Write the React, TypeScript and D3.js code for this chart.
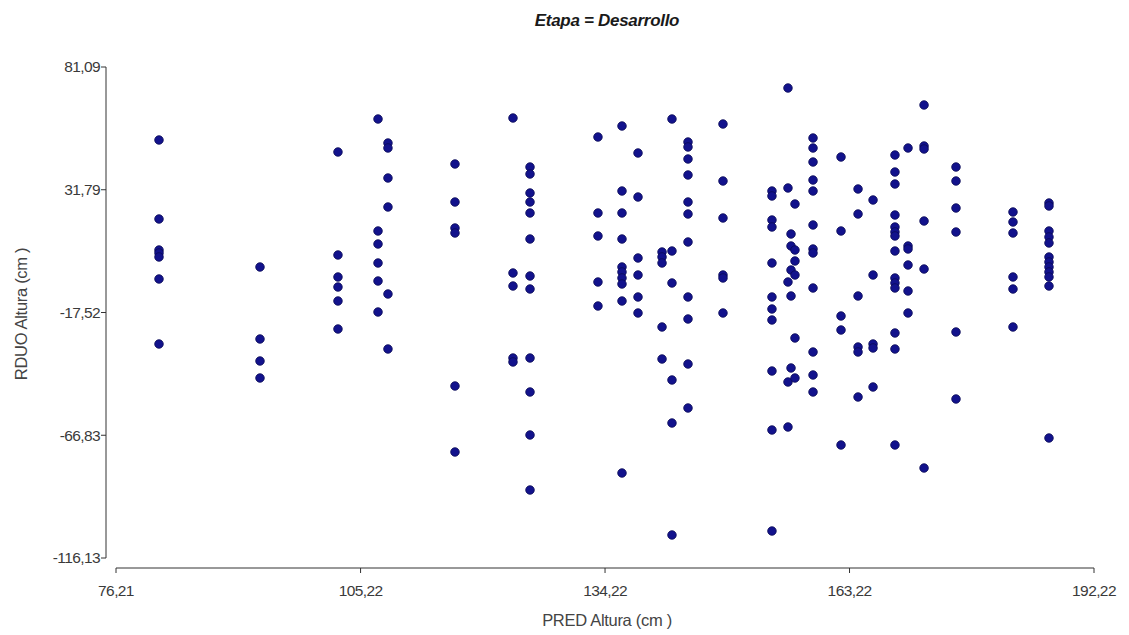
import React from "react";
import * as d3 from "d3";

const title = "Etapa = Desarrollo";
const xLabel = "PRED Altura (cm )";
const yLabel = "RDUO Altura (cm )";

const xTicks = [76.21, 105.22, 134.22, 163.22, 192.22];
const yTicks = [81.09, 31.79, -17.52, -66.83, -116.13];

// predicted value of each vertical group of points
const columnX = [
  81.31, 93.29, 102.54, 107.29, 108.47, 116.42, 123.3, 125.32, 133.38, 136.23,
  138.13, 140.98, 142.16, 144.06, 148.21, 154.02, 155.92, 156.28, 156.75, 158.89,
  162.21, 164.23, 166.01, 168.61, 170.16, 172.06, 175.85, 182.61, 186.88,
];

// residuals belonging to each group
const columnY = [
  [51.77, 20.04, 7.58, 6.38, 4.77, -4.06, -30.17],
  [0.76, -28.16, -37.0, -43.83],
  [46.95, 5.58, -3.26, -7.28, -12.9, -24.15],
  [60.2, 15.22, 9.99, 2.36, -4.87, -17.32],
  [50.56, 48.55, 36.5, 24.86, -10.09, -32.18],
  [42.13, 26.86, 16.42, 14.41, -47.04, -73.55],
  [60.6, -1.65, -6.88, -35.8, -37.4],
  [40.92, 38.11, 30.48, 26.86, 22.45, 12.0, -2.86, -8.08, -35.8, -49.45, -66.72, -88.82],
  [52.97, 22.45, 13.21, -5.27, -14.91],
  [57.39, 31.28, 22.45, 12.0, 0.76, -1.25, -3.66, -6.07, -12.9, -81.99],
  [46.55, 28.87, 4.37, -2.46, -11.29, -17.72],
  [6.78, 4.77, 2.36, -23.34, -36.2],
  [60.2, 7.18, -5.67, -44.63, -61.91, -106.89],
  [50.96, 48.96, 44.14, 37.71, 26.86, 22.04, 10.8, -11.29, -20.13, -38.21, -55.88],
  [58.19, 35.3, 20.44, -2.46, -3.66, -17.72],
  [31.28, 29.27, 19.63, 16.82, 2.36, -11.29, -16.11, -20.53, -41.02, -64.72, -105.29],
  [72.65, 32.49, -5.27, -45.44, -63.51],
  [14.01, 9.19, -0.45, -10.89, -39.81],
  [26.06, 7.58, 3.17, -2.46, -27.76, -43.83],
  [52.57, 48.55, 42.93, 35.7, 31.28, 17.63, 7.99, 6.38, -7.68, -33.39, -42.62, -49.45],
  [44.94, 15.22, -18.93, -24.55, -70.74],
  [32.09, 22.04, -10.89, -31.38, -33.39, -51.46],
  [27.67, -2.46, -30.17, -31.78, -47.44],
  [45.74, 38.91, 34.09, 21.64, 16.82, 14.81, 13.21, 7.18, -3.66, -5.67, -7.68, -25.75, -32.18, -70.74],
  [48.55, 9.19, 7.99, 1.56, -8.88, -17.72],
  [65.83, 49.36, 48.15, 19.23, -0.05, -79.98],
  [40.92, 35.3, 24.45, 14.81, -25.35, -52.26],
  [22.85, 18.83, 14.41, -3.26, -8.08, -23.34],
  [26.46, 25.26, 15.22, 12.81, 10.4, 4.77, 2.76, 0.76, -1.25, -3.26, -6.88, -67.93],
];

const W = 1129;
const H = 635;
const font = "'Liberation Sans', Arial, sans-serif";
const fmt = (v: number) => v.toFixed(2).replace(".", ",");

export default function App() {
  const x = d3.scaleLinear().domain([76.21, 192.22]).range([116, 1094]);
  const y = d3.scaleLinear().domain([-116.13, 81.09]).range([558, 67]);
  const yAxisX = 106;
  const xAxisY = 568;

  const points = columnX.flatMap((cx, i) => columnY[i].map((cy) => [cx, cy]));

  return (
    <svg
      width={W}
      height={H}
      style={{ position: "absolute", left: 0, top: 0, background: "#fff" }}
      fontFamily={font}
    >
      <text
        x={607}
        y={20}
        dy="0.35em"
        textAnchor="middle"
        fontSize={17}
        fontWeight="bold"
        fontStyle="italic"
        fill="#1a1a1a"
        letterSpacing={-0.3}
      >
        {title}
      </text>

      {/* y axis */}
      <line x1={yAxisX} x2={yAxisX} y1={y(81.09)} y2={y(-116.13)} stroke="#333" />
      {yTicks.map((t) => (
        <g key={t}>
          <line x1={yAxisX - 5} x2={yAxisX} y1={y(t)} y2={y(t)} stroke="#333" />
          <text
            x={yAxisX - 6}
            y={y(t)}
            dy="0.35em"
            textAnchor="end"
            fontSize={15.5}
            fill="#3a3a3a"
            letterSpacing={-0.6}
          >
            {fmt(t)}
          </text>
        </g>
      ))}

      {/* x axis */}
      <line x1={x(76.21)} x2={x(192.22)} y1={xAxisY} y2={xAxisY} stroke="#333" />
      {xTicks.map((t) => (
        <g key={t}>
          <line x1={x(t)} x2={x(t)} y1={xAxisY} y2={xAxisY + 5} stroke="#333" />
          <text
            x={x(t)}
            y={xAxisY + 23}
            dy="0.35em"
            textAnchor="middle"
            fontSize={15.5}
            fill="#3a3a3a"
            letterSpacing={-0.6}
          >
            {fmt(t)}
          </text>
        </g>
      ))}

      <text
        x={607}
        y={620}
        dy="0.35em"
        textAnchor="middle"
        fontSize={16.5}
        fill="#444"
        letterSpacing={-0.3}
      >
        {xLabel}
      </text>
      <text
        transform={`translate(21,314) rotate(-90)`}
        dy="0.35em"
        textAnchor="middle"
        fontSize={16.5}
        fill="#444"
        letterSpacing={-0.3}
      >
        {yLabel}
      </text>

      {points.map(([px, py], i) => (
        <circle
          key={i}
          cx={x(px)}
          cy={y(py)}
          r={4.3}
          fill="#12128c"
          stroke="#0a0a55"
          strokeWidth={0.8}
        />
      ))}
    </svg>
  );
}
